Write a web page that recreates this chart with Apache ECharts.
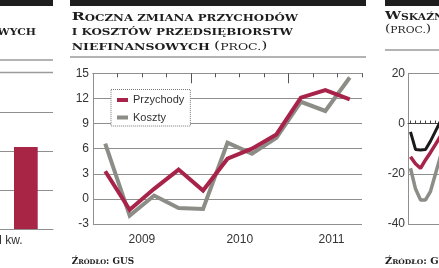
<!DOCTYPE html>
<html><head><meta charset="utf-8">
<script src="https://cdn.jsdelivr.net/npm/echarts@6/dist/echarts.min.js"></script>
<style>html,body{margin:0;padding:0;background:#fff}#c{width:439px;height:268px}</style>
</head><body><div id="c"></div>
<script>
// ===== DATA =====
const quarters = ['I 2009','II 2009','III 2009','IV 2009','I 2010','II 2010','III 2010','IV 2010','I 2011','II 2011','III 2011'];
const przychody = [3.3, -1.3, 1.2, 3.5, 1.0, 4.8, 6.0, 7.7, 12.1, 13.0, 11.9];
const koszty    = [6.6, -2.0, 0.4, -1.1, -1.2, 6.7, 5.4, 7.3, 11.6, 10.5, 14.5];
const yearLabels = ['2009', '2010', '2011'];
const yearLabelPos = [2, 6, 9.75];          // label positions in quarter units
const minorTickPos = [1, 2, 3, 5, 6, 7, 9, 10, 11];
const majorTickPos = [4, 8];
const yMin = -3, yMax = 15, yStep = 3;

// left (cut) panel
const leftCats = ['II kw.', 'III kw.'];
const leftVals = [null, 2.1];
// right (cut) panel
const rightCats = ['1', '2', '3', '4', '5', '6', '7'];
const rightGray  = [-17.8, -26, -30.4, -30.4, -27, -20, -13];
const rightRed   = [-13.2, -16, -17.8, -14.5, -11.5, -8.3, -5];
const rightBlack = [-3.3, -10.3, -10.5, -10.3, -7, -3, 1];

// ===== STYLE =====
const SANS = "'Liberation Sans',Arial,sans-serif";
const SERIF = "'DejaVu Serif',serif";
const RED = '#a8234a', GRAY = '#8c8d87', GRID = '#8f8f8f', INK = '#1e1e1e';

const mctx = document.createElement('canvas').getContext('2d');
function tw(t, size, weight) { mctx.font = weight + ' ' + size + 'px ' + SERIF; return mctx.measureText(t).width; }
function scText(x, yBottom, segs, targetW, alignRight, fixedScale) {
  let cx = 0; const children = [];
  segs.forEach(function (s) {
    children.push({ type: 'text', x: cx, y: 0, style: { text: s[0], font: s[2] + ' ' + s[1] + 'px ' + SERIF, fill: INK, verticalAlign: 'bottom', align: 'left' } });
    cx += tw(s[0], s[1], s[2]);
  });
  const sx = fixedScale || (targetW / cx);
  return { type: 'group', x: alignRight ? x - cx * sx : x, y: yBottom, scaleX: sx, children: children };
}
const B = 11, S = 8.3;
const graphics = [
  { type: 'rect', shape: { x: 70, y: 0, width: 296, height: 6 }, style: { fill: INK } },
  { type: 'rect', shape: { x: 0, y: 0, width: 53, height: 6 }, style: { fill: INK } },
  { type: 'rect', shape: { x: 385, y: 0, width: 60, height: 6 }, style: { fill: INK } },
  { type: 'line', shape: { x1: 70, y1: 57, x2: 366, y2: 57 }, style: { stroke: '#9a9a9a', lineWidth: 1.5 } },
  { type: 'line', shape: { x1: 385, y1: 50, x2: 445, y2: 50 }, style: { stroke: '#9a9a9a', lineWidth: 1.5 } },
  { type: 'line', shape: { x1: 0, y1: 60, x2: 53, y2: 60 }, style: { stroke: '#9a9a9a', lineWidth: 1.5 } },
  { type: 'line', shape: { x1: 0, y1: 72.5, x2: 53, y2: 72.5 }, style: { stroke: '#9a9a9a', lineWidth: 1.5 } },
  scText(71.7, 22.5, [['R', B, 'bold'], ['OCZNA ZMIANA PRZYCHODÓW', S, 'bold']], 226.3),
  scText(71.7, 37, [['I KOSZTÓW PRZEDSIĘBIORSTW', S, 'bold']], 221.3),
  scText(71.7, 52, [['NIEFINANSOWYCH ', S, 'bold'], ['(', 10.5, 'normal'], ['PROC.', S, 'normal'], [')', 10.5, 'normal']], 195.6),
  scText(36, 37, [['NIEFINANSOWYCH', S, 'bold']], 0, true, 1.3),
  scText(385, 22, [['W', B, 'bold'], ['SKAŹNIKI', S, 'bold']], 0, false, 1.3),
  scText(385, 35, [['(', 10.5, 'normal'], ['PROC.', S, 'normal'], [')', 10.5, 'normal']], 0, false, 1.3),
  scText(71.7, 266, [['Ź', 8.5, 'bold'], ['RÓDŁO', 6.5, 'bold'], [': GUS', 8.5, 'bold']], 62.3),
  scText(385, 266, [['Ź', 8.5, 'bold'], ['RÓDŁO', 6.5, 'bold'], [': GUS', 8.5, 'bold']], 0, false, 1.15)
];

const chart = echarts.init(document.getElementById('c'), null, { renderer: 'canvas' });
chart.setOption({
  animation: false,
  backgroundColor: '#fff',
  grid: [
    { left: 93, top: 73.3, width: 269, height: 150.7, containLabel: false, outerBoundsMode: 'none' },
    { left: -55.6, top: 112, width: 108.6, height: 117, containLabel: false, outerBoundsMode: 'none' },
    { left: 408, top: 73.3, width: 35, height: 150.7, containLabel: false, outerBoundsMode: 'none' }
  ],
  legend: {
    data: ['Przychody', 'Koszty'], orient: 'vertical', left: 111, top: 89.5,
    padding: [5, 6, 3, 6], itemGap: 6.5, itemTextGap: 7, itemWidth: 11, itemHeight: 4, icon: 'rect',
    backgroundColor: '#fff', borderColor: '#777', borderWidth: 1, borderType: 'dotted', borderRadius: 0,
    textStyle: { fontFamily: SANS, fontSize: 11, color: '#333' }
  },
  xAxis: [
    { gridIndex: 0, type: 'category', data: quarters, boundaryGap: true, show: false },
    { gridIndex: 0, type: 'value', min: 0, max: quarters.length, position: 'bottom',
      axisLine: { show: false, onZero: false }, axisTick: { show: false }, splitLine: { show: false },
      axisLabel: { customValues: yearLabelPos, formatter: function (v) { const i = yearLabelPos.indexOf(v); return i >= 0 ? yearLabels[i] : ''; },
        fontFamily: SANS, fontSize: 12, color: '#333', margin: 10 } },
    { gridIndex: 0, type: 'value', min: 0, max: quarters.length,
      axisLine: { show: true, onZero: true, lineStyle: { color: GRID, width: 1 } },
      axisTick: { show: true, inside: true, length: 4, customValues: minorTickPos, lineStyle: { color: '#555', width: 1 } },
      axisLabel: { show: false }, splitLine: { show: false } },
    { gridIndex: 0, type: 'value', min: 0, max: quarters.length,
      axisLine: { show: true, onZero: true, lineStyle: { color: GRID, width: 1 } },
      axisTick: { show: true, inside: true, length: 10, customValues: majorTickPos, lineStyle: { color: '#555', width: 1 } },
      axisLabel: { show: false }, splitLine: { show: false } },
    { gridIndex: 1, type: 'category', data: leftCats, boundaryGap: true,
      axisLine: { show: true, lineStyle: { color: GRID } }, axisTick: { show: false },
      axisLabel: { interval: 0, margin: 6, formatter: function (v) { return '{a|' + v + '}'; },
        rich: { a: { padding: [0, 37, 0, 0], fontFamily: SANS, fontSize: 12, color: '#333' } } } },
    { gridIndex: 2, type: 'category', data: rightCats, boundaryGap: true,
      axisLine: { show: true, onZero: true, lineStyle: { color: '#444', width: 1 } },
      axisTick: { show: true, inside: true, length: 3, interval: 0, alignWithLabel: true, lineStyle: { color: '#444' } },
      axisLabel: { show: false } }
  ],
  yAxis: [
    { gridIndex: 0, type: 'value', min: yMin, max: yMax, interval: yStep,
      axisLine: { show: true, lineStyle: { color: GRID, width: 1 } }, axisTick: { show: false },
      splitLine: { lineStyle: { color: GRID, width: 1 } },
      axisLabel: { fontFamily: SANS, fontSize: 12, color: '#333', margin: 4 } },
    { gridIndex: 1, type: 'value', min: 0, max: 3, interval: 1,
      axisLine: { show: false }, axisTick: { show: false }, axisLabel: { show: false },
      splitLine: { lineStyle: { color: GRID, width: 1 } } },
    { gridIndex: 2, type: 'value', min: -40, max: 20, interval: 20,
      axisLine: { show: true, lineStyle: { color: GRID, width: 1 } }, axisTick: { show: false },
      splitLine: { lineStyle: { color: GRID, width: 1 } },
      axisLabel: { fontFamily: SANS, fontSize: 12, color: '#333', margin: 3 } }
  ],
  series: [
    { name: 'Koszty', type: 'line', xAxisIndex: 0, yAxisIndex: 0, data: koszty, symbol: 'none', z: 3,
      color: GRAY, lineStyle: { color: GRAY, width: 4, join: 'miter' } },
    { name: 'Przychody', type: 'line', xAxisIndex: 0, yAxisIndex: 0, data: przychody, symbol: 'none', z: 4,
      color: RED, lineStyle: { color: RED, width: 4, join: 'miter' } },
    { name: 'Lewy', type: 'bar', xAxisIndex: 4, yAxisIndex: 1, data: leftVals, barWidth: 23.7, itemStyle: { color: '#a82546' } },
    { name: 'R1', type: 'line', xAxisIndex: 5, yAxisIndex: 2, data: rightGray, symbol: 'none', lineStyle: { color: GRAY, width: 3.5 } },
    { name: 'R2', type: 'line', xAxisIndex: 5, yAxisIndex: 2, data: rightRed, symbol: 'none', lineStyle: { color: RED, width: 3.5 } },
    { name: 'R3', type: 'line', xAxisIndex: 5, yAxisIndex: 2, data: rightBlack, symbol: 'none', lineStyle: { color: '#1a1a1a', width: 3 } }
  ],
  graphic: graphics
});
</script>
</body></html>
